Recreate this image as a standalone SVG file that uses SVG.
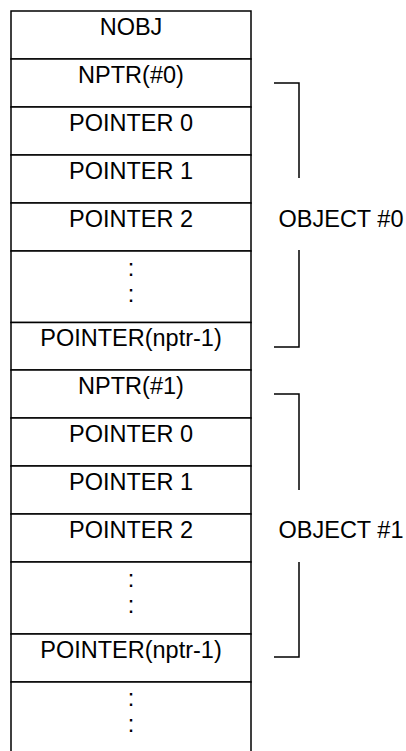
<svg xmlns="http://www.w3.org/2000/svg" width="406" height="751" viewBox="0 0 406 751">
<style>
.cell{fill:#fff;stroke:#000;stroke-width:1.5}
.t{font-family:"Liberation Sans",Arial,sans-serif;font-size:23.5px;fill:#000;text-anchor:middle}
.br{fill:none;stroke:#000;stroke-width:1.5}
</style>
<rect x="0" y="0" width="406" height="751" fill="#fff"/>
<g id="table">
<g id="nobj"><rect class="cell" x="11" y="11" width="240" height="48"/><text class="t" x="131" y="35">NOBJ</text></g>
<g id="nptr0"><rect class="cell" x="11" y="59" width="240" height="48"/><text class="t" x="131" y="83">NPTR(#0)</text></g>
<g id="o0p0"><rect class="cell" x="11" y="107" width="240" height="48"/><text class="t" x="131" y="131">POINTER 0</text></g>
<g id="o0p1"><rect class="cell" x="11" y="155" width="240" height="48"/><text class="t" x="131" y="179">POINTER 1</text></g>
<g id="o0p2"><rect class="cell" x="11" y="203" width="240" height="48"/><text class="t" x="131" y="227">POINTER 2</text></g>
<g id="o0dots"><rect class="cell" x="11" y="251" width="240" height="71.5"/><text class="t" x="131" y="275.5">:</text><text class="t" x="131" y="301.5">:</text></g>
<g id="o0plast"><rect class="cell" x="11" y="322.5" width="240" height="47.5"/><text class="t" x="131" y="346">POINTER(nptr-1)</text></g>
<g id="nptr1"><rect class="cell" x="11" y="370" width="240" height="48"/><text class="t" x="131" y="394">NPTR(#1)</text></g>
<g id="o1p0"><rect class="cell" x="11" y="418" width="240" height="48"/><text class="t" x="131" y="442">POINTER 0</text></g>
<g id="o1p1"><rect class="cell" x="11" y="466" width="240" height="48"/><text class="t" x="131" y="490">POINTER 1</text></g>
<g id="o1p2"><rect class="cell" x="11" y="514" width="240" height="48"/><text class="t" x="131" y="538">POINTER 2</text></g>
<g id="o1dots"><rect class="cell" x="11" y="562" width="240" height="72"/><text class="t" x="131" y="587">:</text><text class="t" x="131" y="613">:</text></g>
<g id="o1plast"><rect class="cell" x="11" y="634" width="240" height="48"/><text class="t" x="131" y="658">POINTER(nptr-1)</text></g>
<g id="moredots"><rect class="cell" x="11" y="682" width="240" height="90"/><text class="t" x="131" y="706">:</text><text class="t" x="131" y="732">:</text></g>
</g>
<g id="connectors">
<path class="br" d="M274 83H299V178M299 250V347H274"/>
<path class="br" d="M274 394H299V490M299 562V657H274"/>
</g>
<g id="obj0label"><text class="t" x="341" y="227">OBJECT #0</text></g>
<g id="obj1label"><text class="t" x="341" y="538">OBJECT #1</text></g>
</svg>
